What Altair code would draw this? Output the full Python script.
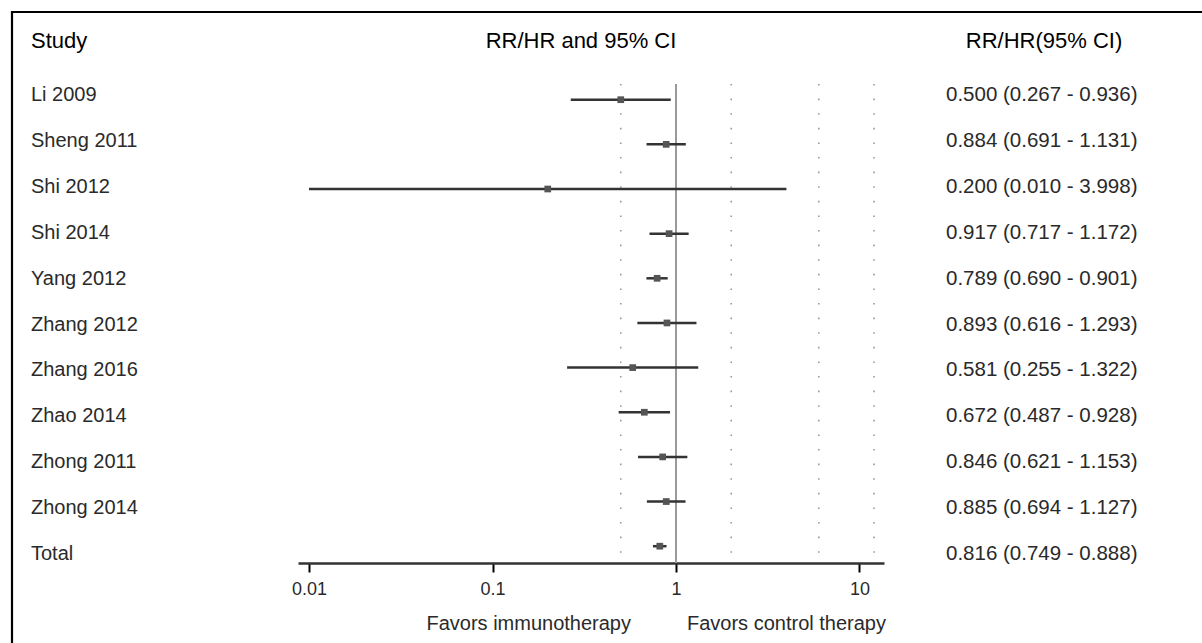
import altair as alt
import pandas as pd

# ---- data ----
studies = ["Li 2009", "Sheng 2011", "Shi 2012", "Shi 2014", "Yang 2012", "Zhang 2012",
           "Zhang 2016", "Zhao 2014", "Zhong 2011", "Zhong 2014", "Total"]
est = [0.500, 0.884, 0.200, 0.917, 0.789, 0.893, 0.581, 0.672, 0.846, 0.885, 0.816]
lo = [0.267, 0.691, 0.010, 0.717, 0.690, 0.616, 0.255, 0.487, 0.621, 0.694, 0.749]
hi = [0.936, 1.131, 3.998, 1.172, 0.901, 1.293, 1.322, 0.928, 1.153, 1.127, 0.888]
headers = ["Study", "RR/HR and 95% CI", "RR/HR(95% CI)"]
favors = ["Favors immunotherapy", "Favors control therapy"]
ref_dotted = [0.5, 2, 6, 12]
ref_null = [1]
tick_values = [0.01, 0.1, 1, 10]

ci_text = [f"{e:.3f} ({l:.3f} - {h:.3f})" for e, l, h in zip(est, lo, hi)]
df = pd.DataFrame({"i": list(range(len(studies))), "study": studies, "est": est,
                   "lo": lo, "hi": hi, "txt": ci_text})

FONT = "Liberation Sans"
TXT = "#2a2a2a"

xscale = alt.Scale(type="log", domain=[0.00871, 13.6], range=[298, 884], nice=False)
xaxis = alt.Axis(values=tick_values, format="~g", title=None, grid=False, tickSize=9,
                 tickWidth=2, tickColor="black", domainColor="#333333", domainWidth=2.5,
                 labelFontSize=18, labelFont=FONT, labelColor=TXT, labelPadding=8,
                 labelFlush=False, labelOverlap=False)
ymark = alt.Scale(domain=[0, 10], range=[99.7, 546.2], nice=False, zero=False)
ytext = alt.Scale(domain=[0, 10], range=[95, 554], nice=False, zero=False)

one = alt.Data(values=[{"a": 1}])

dotted = alt.Chart(pd.DataFrame({"r": ref_dotted})).mark_rule(
    color="#9a9a9a", strokeWidth=1.6, strokeDash=[1.6, 13], strokeCap="butt"
).encode(x=alt.X("r:Q", scale=xscale, axis=xaxis), y=alt.value(84), y2=alt.value(563))

null_line = alt.Chart(pd.DataFrame({"r": ref_null})).mark_rule(
    color="#9a9a9a", strokeWidth=2
).encode(x=alt.X("r:Q", scale=xscale, axis=xaxis), y=alt.value(84), y2=alt.value(563))

ci = alt.Chart(df).mark_rule(color="#333333", strokeWidth=2.5).encode(
    x=alt.X("lo:Q", scale=xscale, axis=xaxis), x2="hi:Q",
    y=alt.Y("i:Q", scale=ymark, axis=None))

pts = alt.Chart(df).mark_square(color="#555555", opacity=1, size=45).encode(
    x=alt.X("est:Q", scale=xscale, axis=xaxis),
    y=alt.Y("i:Q", scale=ymark, axis=None))

study_txt = alt.Chart(df).mark_text(align="left", baseline="middle", fontSize=20,
                                    font=FONT, color=TXT).encode(
    x=alt.value(31), y=alt.Y("i:Q", scale=ytext, axis=None), text="study:N")

ci_txt = alt.Chart(df).mark_text(align="left", baseline="middle", fontSize=20.5,
                                 font=FONT, color=TXT).encode(
    x=alt.value(946), y=alt.Y("i:Q", scale=ytext, axis=None), text="txt:N")

hdr = pd.DataFrame({"h": headers})
h1 = alt.Chart(hdr).transform_filter(alt.datum.h == headers[0]).mark_text(
    align="left", baseline="middle", fontSize=22, font=FONT, color="black"
).encode(x=alt.value(31), y=alt.value(41), text="h:N")
h2 = alt.Chart(hdr).transform_filter(alt.datum.h == headers[1]).mark_text(
    align="center", baseline="middle", fontSize=22, font=FONT, color="black"
).encode(x=alt.value(581), y=alt.value(41), text="h:N")
h3 = alt.Chart(hdr).transform_filter(alt.datum.h == headers[2]).mark_text(
    align="center", baseline="middle", fontSize=22, font=FONT, color="black"
).encode(x=alt.value(1044), y=alt.value(41), text="h:N")

fav = pd.DataFrame({"f": favors})
f1 = alt.Chart(fav).transform_filter(alt.datum.f == favors[0]).mark_text(
    align="right", baseline="middle", fontSize=20, font=FONT, color=TXT
).encode(x=alt.value(631), y=alt.value(624), text="f:N")
f2 = alt.Chart(fav).transform_filter(alt.datum.f == favors[1]).mark_text(
    align="left", baseline="middle", fontSize=20, font=FONT, color=TXT
).encode(x=alt.value(687), y=alt.value(624), text="f:N")

frame = alt.Chart(one).mark_rect(filled=False, stroke="black", strokeWidth=2.2).encode(
    x=alt.value(12), x2=alt.value(1230), y=alt.value(12), y2=alt.value(700))

chart = alt.layer(
    frame, dotted, null_line, ci, pts, study_txt, ci_txt, h1, h2, h3, f1, f2
).resolve_scale(y="independent").properties(
    width=1202, height=563,
    autosize=alt.AutoSizeParams(type="none"),
    padding={"left": 0, "right": 0, "top": 0, "bottom": 80},
    background="white",
).configure_view(stroke=None)

chart.save("out.html", embed_options={"renderer": "svg", "actions": False})
